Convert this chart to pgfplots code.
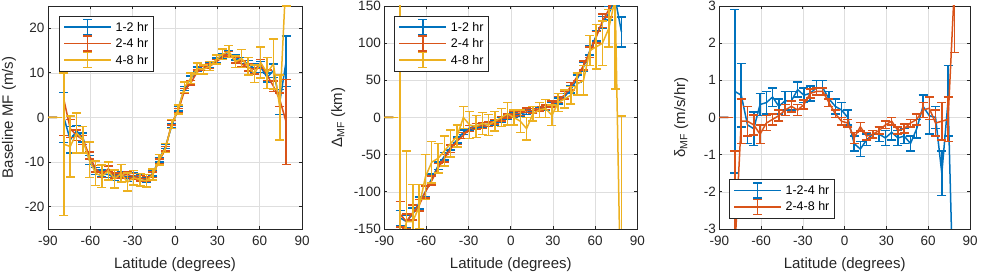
\documentclass[border=0pt]{standalone}
\usepackage{pgfplots}
\pgfplotsset{compat=1.18}
\usepackage{pgfplotstable}
\usepackage{fontspec}
\setmainfont{Liberation Sans}

\definecolor{mblue}{rgb}{0,0.447,0.741}
\definecolor{morange}{rgb}{0.850,0.325,0.098}
\definecolor{myellow}{rgb}{0.929,0.694,0.125}
\definecolor{axgray}{rgb}{0.15,0.15,0.15}
\definecolor{gridgray}{rgb}{0.87,0.87,0.87}

\pgfplotstableread{
lat     b     be    o     oe    y     ye
-90.0   0     0     0     0     0     0
-83.5   0     0     0     0     0     0
-81.0   nan   0     nan   0     nan   0
-78.75  0.0   5.6   4.0   8.0   -6.0  16.0
-74.25  -5.0  3.0   -2.5  2.0   -6.5  6.8
-69.75  -3.0  1.2   -4.0  1.2   -3.5  4.5
-65.25  -4.5  1.0   -5.0  1.0   -5.0  3.0
-60.75  -9.5  1.0   -8.5  0.8   -9.5  4.0
-56.25  -12.0 0.8   -11.5 0.7   -12.5 2.8
-51.75  -12.5 0.7   -12.8 0.7   -13.2 2.5
-47.25  -12.8 0.7   -11.5 0.6   -12.0 2.0
-42.75  -13.5 0.6   -13.0 0.6   -13.8 2.0
-38.25  -12.7 0.6   -13.0 0.6   -12.5 2.0
-33.75  -13.8 0.6   -12.8 0.6   -14.5 2.0
-29.25  -13.0 0.6   -13.2 0.6   -13.5 1.6
-24.75  -13.5 0.6   -13.6 0.6   -14.0 1.4
-20.25  -14.0 0.6   -13.8 0.6   -14.2 1.4
-15.75  -12.5 0.6   -12.8 0.6   -12.8 1.2
-11.25  -9.5  0.5   -9.8  0.5   -9.5  1.2
-6.75   -6.5  0.5   -7.0  0.5   -6.8  1.0
-2.25   -1.8  0.5   -1.2  0.5   -1.5  1.0
2.25    2.0   0.5   1.5   0.5   1.8   1.0
6.75    6.5   0.5   6.0   0.5   6.8   1.2
11.25   8.8   0.5   7.8   0.5   8.8   1.2
15.75   10.8  0.5   10.2  0.5   11.0  1.2
20.25   11.0  0.5   11.0  0.5   10.8  1.0
24.75   11.7  0.5   11.5  0.5   11.5  1.0
29.25   12.8  0.5   12.5  0.5   13.0  1.0
33.75   13.8  0.5   13.5  0.5   14.2  1.2
38.25   14.3  0.6   14.2  0.6   14.8  1.3
42.75   13.5  0.6   12.8  0.6   12.5  1.3
47.25   12.8  0.7   12.0  0.7   13.2  2.0
51.75   12.0  0.8   11.2  0.8   11.5  2.0
56.25   11.0  1.0   10.8  1.0   9.8   2.0
60.75   11.3  1.2   12.0  1.0   12.3  3.5
65.25   9.0   1.0   9.5   1.2   10.0  3.5
69.75   10.5  1.5   7.0   1.2   12.0  5.6
74.25   3.5   2.8   4.0   1.5   2.2   7.3
78.75   12.6  5.7   -1.0  9.5   32.0  7.0
}\tabA

\pgfplotstableread{
lat     b     be    o     oe    y     ye
-90.0   0     0     0     0     0     0
-83.5   0     0     0     0     0     0
-81.0   nan   0     nan   0     nan   0
-78.75  -135  10    -130  17    -180  350
-74.25  -140  8     -140  10    -140  95
-69.75  -130  8     -128  10    -140  50
-65.25  -115  8     -118  8     -120  30
-60.75  -100  7     -100  8     -80   30
-56.25  -82   6     -85   6     -60   28
-51.75  -65   5     -68   6     -55   20
-47.25  -52   5     -55   5     -45   20
-42.75  -40   4     -42   5     -35   18
-38.25  -30   4     -32   4     -25   15
-33.75  -20   3     -24   4     0     15
-29.25  -14   3     -15   4     -10   18
-24.75  -11   3     -12   4     -12   15
-20.25  -10   3     -11   4     -8    15
-15.75  -9    3     -9    3     -10   14
-11.25  -7    3     -6    3     -5    13
-6.75   -3    3     -2    3     0     12
-2.25   0     3     2     3     5     15
2.25    3     3     5     3     0     10
6.75    5     3     6     3     -5    15
11.25   7     3     10    3     -15   15
15.75   9     3     9     3     5     10
20.25   11    3     12    3     10    10
24.75   13    3     14    3     12    12
29.25   17    3     18    4     3     14
33.75   22    4     24    4     20    12
38.25   28    4     30    5     25    12
42.75   38    5     42    5     30    12
47.25   52    5     55    5     45    15
51.75   68    6     70    6     50    20
56.25   90    6     88    7     90    20
60.75   110   7     108   8     95    30
65.25   128   8     130   9     100   30
69.75   140   9     145   10    120   25
74.25   160   10    165   12    160   122
78.75   115   20    200   20    -300  302
}\tabB

\pgfplotstableread{
lat     b     be    o     oe
-90.0   0     0     0     0
-83.5   0     0     0     0
-81.0   nan   0     nan   0
-78.75  0.7   2.2   -3.5  2.6
-74.25  0.6   0.85  -0.1  0.6
-69.75  -0.2  0.5   -0.1  0.4
-65.25  -0.3  0.45  -0.2  0.27
-60.75  0.35  0.3   -0.45 0.25
-56.25  0.4   0.3   -0.15 0.2
-51.75  0.55  0.25  -0.05 0.15
-47.25  0.3   0.2   0.05  0.15
-42.75  0.45  0.25  0.2   0.15
-38.25  0.45  0.25  0.3   0.15
-33.75  0.75  0.2   0.2   0.15
-29.25  0.6   0.2   0.35  0.12
-24.75  0.65  0.2   0.65  0.12
-20.25  0.8   0.2   0.7   0.1
-15.75  0.8   0.2   0.7   0.1
-11.25  0.5   0.2   0.4   0.1
-6.75   0.3   0.2   0.1   0.1
-2.25   0.2   0.2   -0.1  0.1
2.25    0.0   0.2   -0.15 0.1
6.75    -0.7  0.2   -0.55 0.15
11.25   -0.85 0.2   -0.25 0.12
15.75   -0.6  0.15  -0.5  0.1
20.25   -0.45 0.1   -0.45 0.1
24.75   -0.45 0.2   -0.35 0.1
29.25   -0.55 0.2   -0.2  0.1
33.75   -0.4  0.2   -0.1  0.1
38.25   -0.55 0.2   -0.35 0.1
42.75   -0.5  0.2   -0.3  0.12
47.25   -0.7  0.2   -0.15 0.1
51.75   -0.3  0.25  -0.05 0.15
56.25   0.3   0.3   0.2   0.2
60.75   0.05  0.5   0.25  0.3
65.25   0.0   0.3   -0.15 0.35
69.75   -1.5  0.6   -0.1  0.5
74.25   0.45  0.95  -0.05 0.6
78.75   -6    0.5   3.5   1.75
}\tabC

\pgfplotsset{
  mstyle/.style={
    scale only axis, height=223pt, anchor=south west,
    xmin=-90, xmax=90, xtick={-90,-60,...,90},
    grid=major, grid style={gridgray, line width=0.6pt},
    axis line style={axgray, line width=0.8pt},
    tick style={axgray, line width=0.8pt},
    tick align=inside, major tick length=3pt,
    ticklabel style={font=\fontsize{13.5}{16}\selectfont, text=axgray},
    xticklabel style={yshift=-4pt},
    label style={font=\fontsize{15}{18}\selectfont, text=axgray},
    xlabel={Latitude (degrees)},
    xlabel style={at={(axis description cs:0.5,-0.161)}, anchor=center},
    unbounded coords=jump,
    /pgf/number format/assume math mode=true,
    legend cell align=left,
    legend style={draw=axgray, line width=0.6pt, fill=white,
      font=\fontsize{12.5}{14}\selectfont, text=black,
      inner xsep=4pt, inner ysep=3pt, column sep=3pt,
      nodes={inner sep=0.8pt}},
    legend image code/.code={
      \draw[##1, line width=1.5pt] (0pt,0pt) -- (47pt,0pt);
      \draw[##1, line width=1.5pt] (23.5pt,-7.5pt) -- (23.5pt,7.5pt);
      \draw[##1, line width=1.5pt] (19pt,-7.5pt) -- (28pt,-7.5pt);
      \draw[##1, line width=1.5pt] (19pt,7.5pt) -- (28pt,7.5pt);
    },
  },
  eb/.style={line width=1.5pt,
    error bars/y dir=both, error bars/y explicit,
    error bars/error bar style={line width=1.5pt, solid},
    error bars/error mark=-,
    error bars/error mark options={rotate=90, line width=1.5pt, mark size=4.5pt}},
}

\begin{document}
\begin{tikzpicture}
\useasboundingbox (0,0) rectangle (981pt,275pt);

\begin{axis}[mstyle, at={(48pt,46pt)}, width=254pt,
  ymin=-25, ymax=25, ytick={-20,-10,...,20},
  ylabel={Baseline MF (m/s)},
  ylabel style={at={(axis description cs:-0.1535,0.5)}, anchor=center},
  legend style={at={(0.0433,0.9565)}, anchor=north west}]
\addplot[mblue, eb] table[x=lat, y=b, y error=be] {\tabA};
\addlegendentry{1-2 hr}
\addplot[morange, eb] table[x=lat, y=o, y error=oe] {\tabA};
\addlegendentry{2-4 hr}
\addplot[myellow, eb] table[x=lat, y=y, y error=ye] {\tabA};
\addlegendentry{4-8 hr}
\end{axis}

\begin{axis}[mstyle, at={(384.3pt,46pt)}, width=253pt,
  ymin=-150, ymax=150, ytick={-150,-100,...,150},
  ylabel={Δ\textsubscript{MF} (km)},
  ylabel style={at={(axis description cs:-0.182,0.5)}, anchor=center},
  legend style={at={(0.0395,0.9565)}, anchor=north west}]
\addplot[mblue, eb] table[x=lat, y=b, y error=be] {\tabB};
\addlegendentry{1-2 hr}
\addplot[morange, eb] table[x=lat, y=o, y error=oe] {\tabB};
\addlegendentry{2-4 hr}
\addplot[myellow, eb] table[x=lat, y=y, y error=ye] {\tabB};
\addlegendentry{4-8 hr}
\end{axis}

\begin{axis}[mstyle, at={(719.3pt,46pt)}, width=250.7pt,
  ymin=-3, ymax=3, ytick={-3,-2,...,3},
  ylabel={δ\textsubscript{MF} (m/s/hr)},
  ylabel style={at={(axis description cs:-0.1516,0.5)}, anchor=center},
  legend style={at={(0.0387,0.046)}, anchor=south west}]
\addplot[mblue, eb] table[x=lat, y=b, y error=be] {\tabC};
\addlegendentry{1-2-4 hr}
\addplot[morange, eb] table[x=lat, y=o, y error=oe] {\tabC};
\addlegendentry{2-4-8 hr}
\end{axis}

\end{tikzpicture}
\end{document}
